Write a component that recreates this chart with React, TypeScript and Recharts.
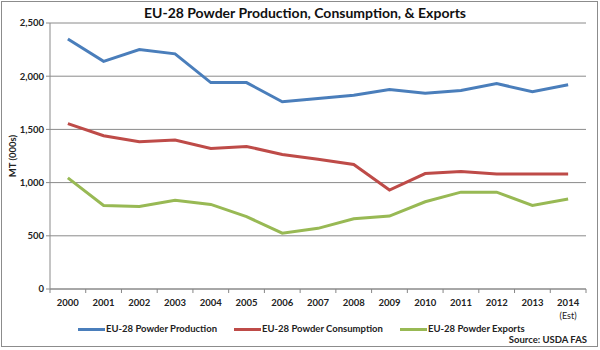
import React from 'react';
import { LineChart, Line, XAxis, YAxis, CartesianGrid } from 'recharts';

const years = ['2000','2001','2002','2003','2004','2005','2006','2007','2008','2009','2010','2011','2012','2013','2014'];
const production = [2350,2140,2250,2210,1940,1940,1760,1790,1820,1875,1840,1865,1930,1855,1920];
const consumption = [1555,1440,1385,1400,1320,1340,1265,1220,1170,930,1085,1105,1080,1080,1080];
const exportsData = [1045,785,775,835,795,680,525,570,660,685,820,910,910,785,845];
const yTicks = [0,500,1000,1500,2000,2500];

const seriesNames = ['EU-28 Powder Production','EU-28 Powder Consumption','EU-28 Powder Exports'];
const colors = ['#4a7ebb','#be4b48','#98b954'];

const data = years.map((y, i) => ({ year: y, p: production[i], c: consumption[i], e: exportsData[i] }));

const FONT = 'Lato, "Open Sans", sans-serif';

const XTick = (props: any) => {
  const { x, y, payload } = props;
  const band = 536 / years.length;
  const isLast = payload.value === '2014';
  return (
    <g>
      <line x1={x - band / 2} x2={x - band / 2} y1={y - 8} y2={y - 4} stroke="#868686" />
      {isLast && <line x1={x + band / 2} x2={x + band / 2} y1={y - 8} y2={y - 4} stroke="#868686" />}
      <text x={x} y={y + 9} textAnchor="middle" fontSize={9.5} fontWeight={700} fill="#222" fontFamily={FONT}>{payload.value}</text>
      {isLast && <text x={x} y={y + 22} textAnchor="middle" fontSize={9} fill="#222" fontFamily={FONT}>(Est)</text>}
    </g>
  );
};

export default function App() {
  return (
    <div style={{ position: 'absolute', left: 0, top: 0, width: 600, height: 350, background: '#fff' }}>
      <div style={{ position: 'absolute', left: 1, top: 1, width: 595, height: 344, border: '1px solid #8c8c8c' }} />
      <div style={{ position: 'absolute', left: 0, top: 4, width: 610, textAlign: 'center', fontFamily: FONT, fontSize: 14, fontWeight: 700, color: '#111' }}>
        EU-28 Powder Production, Consumption, &amp; Exports
      </div>
      <div style={{ position: 'absolute', right: 13, top: 334, fontFamily: FONT, fontSize: 9.5, fontWeight: 700, color: '#222' }}>
        Source: USDA FAS
      </div>
      <div style={{ position: 'absolute', left: 12, top: 156, width: 0, height: 0 }}>
        <div style={{ position: 'absolute', transform: 'translate(-50%, -50%) rotate(-90deg)', whiteSpace: 'nowrap', fontFamily: FONT, fontSize: 9.5, fontWeight: 700, color: '#222' }}>MT (000s)</div>
      </div>
      <div style={{ position: 'absolute', left: 0, top: 322, width: 600, height: 14, fontFamily: FONT, fontSize: 9.5, fontWeight: 700, color: '#222' }}>
        {[78, 234, 400].map((lx, i) => (
          <div key={i} style={{ position: 'absolute', left: lx, top: 0, display: 'flex', alignItems: 'center', whiteSpace: 'nowrap' }}>
            <span style={{ display: 'inline-block', width: 27, height: 3, background: colors[i] }} />
            <span style={{ marginLeft: 1, lineHeight: '14px' }}>{seriesNames[i]}</span>
          </div>
        ))}
      </div>
      <LineChart width={600} height={350} data={data} margin={{ top: 23, right: 14, left: 10, bottom: 31 }} style={{ position: 'absolute', left: 0, top: 0 }}>
        <CartesianGrid vertical={false} stroke="#8a8a8a" strokeWidth={1} />
        <XAxis dataKey="year" scale="band" interval={0} tickLine={false} axisLine={{ stroke: '#8a8a8a' }} height={30} tick={<XTick />} />
        <YAxis domain={[0, 2500]} ticks={yTicks} width={40} interval={0} axisLine={{ stroke: '#8a8a8a' }} tickLine={{ stroke: '#8a8a8a' }} tickSize={4}
          tickFormatter={(v: number) => v.toLocaleString('en-US')}
          tick={{ fontSize: 9.5, fontWeight: 700, fill: '#222', fontFamily: FONT }} />
        <Line dataKey="p" name={seriesNames[0]} stroke={colors[0]} strokeWidth={3} dot={false} isAnimationActive={false} />
        <Line dataKey="c" name={seriesNames[1]} stroke={colors[1]} strokeWidth={3} dot={false} isAnimationActive={false} />
        <Line dataKey="e" name={seriesNames[2]} stroke={colors[2]} strokeWidth={3} dot={false} isAnimationActive={false} />
      </LineChart>
    </div>
  );
}
